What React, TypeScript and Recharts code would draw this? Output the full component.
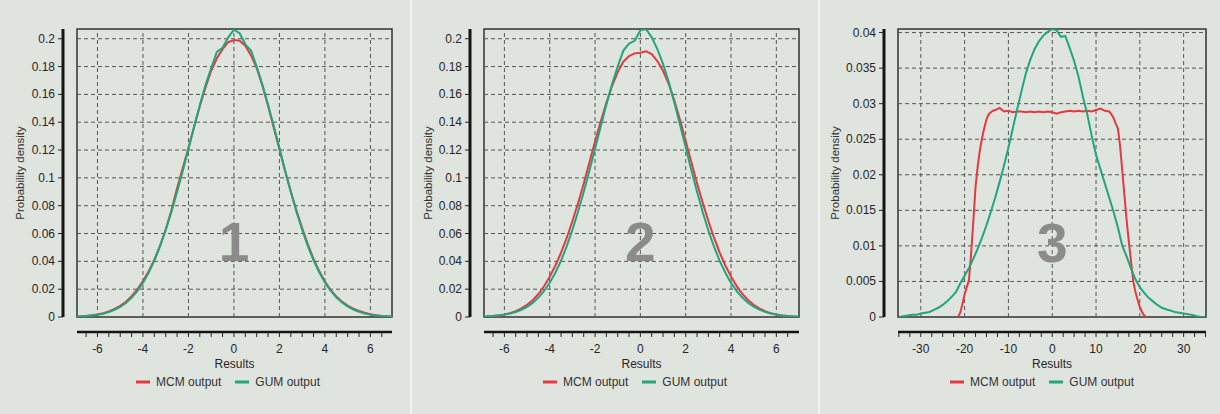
import React from 'react';
import { LineChart, Line, XAxis, YAxis, ReferenceLine, ReferenceArea, ReferenceDot, Legend } from 'recharts';

// ---------- data ----------
const P12_X = [-7, -6.75, -6.5, -6.25, -6, -5.75, -5.5, -5.25, -5, -4.75, -4.5, -4.25, -4, -3.75, -3.5, -3.25, -3, -2.75, -2.5, -2.25, -2, -1.75, -1.5, -1.25, -1, -0.75, -0.5, -0.25, 0, 0.25, 0.5, 0.75, 1, 1.25, 1.5, 1.75, 2, 2.25, 2.5, 2.75, 3, 3.25, 3.5, 3.75, 4, 4.25, 4.5, 4.75, 5, 5.25, 5.5, 5.75, 6, 6.25, 6.5, 6.75, 7];

const GUM1 = [0.0003, 0.0005, 0.0008, 0.0011, 0.0016, 0.0024, 0.0035, 0.0052, 0.0072, 0.0100, 0.0138, 0.0186, 0.0245, 0.0318, 0.0405, 0.0508, 0.0625, 0.0755, 0.0898, 0.1050, 0.1208, 0.1368, 0.1522, 0.1668, 0.1790, 0.1905, 0.1935, 0.2010,
  0.2065,
  0.2040, 0.1960, 0.1915, 0.1800, 0.1670, 0.1525, 0.1372, 0.1215, 0.1052, 0.0900, 0.0757, 0.0627, 0.0510, 0.0408, 0.0322, 0.0248, 0.0190, 0.0142, 0.0104, 0.0076, 0.0054, 0.0037, 0.0025, 0.0017, 0.0011, 0.0007, 0.0005, 0.0003];

const MCM1 = [0.0002, 0.0004, 0.0007, 0.0012, 0.0018, 0.0027, 0.0040, 0.0058, 0.0080, 0.0110, 0.0150, 0.0198, 0.0258, 0.0328, 0.0412, 0.0512, 0.0628, 0.0765, 0.0925, 0.1070, 0.1215, 0.1370, 0.1515, 0.1650, 0.1770, 0.1860, 0.1925, 0.1975,
  0.1990,
  0.1985, 0.1950, 0.1880, 0.1790, 0.1665, 0.1518, 0.1360, 0.1205, 0.1050, 0.0902, 0.0765, 0.0640, 0.0522, 0.0418, 0.0330, 0.0255, 0.0195, 0.0148, 0.0110, 0.0082, 0.0060, 0.0043, 0.0030, 0.0020, 0.0013, 0.0008, 0.0004, 0.0002];

const GUM2 = [0.0003, 0.0005, 0.0008, 0.0012, 0.0017, 0.0025, 0.0036, 0.0052, 0.0073, 0.0101, 0.0139, 0.0187, 0.0246, 0.0318, 0.0406, 0.0508, 0.0626, 0.0756, 0.0899, 0.1052, 0.1210, 0.1370, 0.1525, 0.1672, 0.1800, 0.1915, 0.1965, 0.1985,
  0.2060,
  0.2070, 0.2010, 0.1925, 0.1820, 0.1690, 0.1540, 0.1380, 0.1220, 0.1055, 0.0900, 0.0755, 0.0622, 0.0505, 0.0403, 0.0318, 0.0245, 0.0186, 0.0139, 0.0102, 0.0074, 0.0053, 0.0037, 0.0025, 0.0017, 0.0011, 0.0007, 0.0004, 0.0003];

const MCM2 = [0.0002, 0.0004, 0.0007, 0.0011, 0.0018, 0.0028, 0.0042, 0.0062, 0.0088, 0.0121, 0.0165, 0.0221, 0.0290, 0.0370, 0.0462, 0.0568, 0.0688, 0.0818, 0.0958, 0.1110, 0.1262, 0.1405, 0.1540, 0.1660, 0.1760, 0.1835, 0.1875, 0.1895,
  0.1900,
  0.1910, 0.1890, 0.1840, 0.1770, 0.1675, 0.1555, 0.1415, 0.1265, 0.1112, 0.0962, 0.0822, 0.0690, 0.0570, 0.0463, 0.0370, 0.0291, 0.0222, 0.0166, 0.0122, 0.0088, 0.0062, 0.0042, 0.0028, 0.0018, 0.0011, 0.0007, 0.0004, 0.0002];

const GUM3_X = [-35, -34, -33, -32, -31, -30, -29, -28, -27, -26, -25, -24, -23, -22, -21, -20, -19, -18, -17, -16, -15, -14, -13, -12, -11, -10, -9, -8, -7, -6, -5, -4, -3, -2, -1, 0, 1, 2, 3, 4, 5, 6, 7, 8, 9, 10, 11, 12, 13, 14, 15, 16, 17, 18, 19, 20, 21, 22, 23, 24, 25, 26, 27, 28, 29, 30, 31, 32, 33, 34, 35];
const GUM3 = [0, 0.0001, 0.0002, 0.0003, 0.0003, 0.0005, 0.0006, 0.0007, 0.0010, 0.0013, 0.0017, 0.0022, 0.0028, 0.0035, 0.0047, 0.0058, 0.0069, 0.0082, 0.0096, 0.0112, 0.0129, 0.0148, 0.0168, 0.0190, 0.0213, 0.0238, 0.0265, 0.0292, 0.0318, 0.0343, 0.0362, 0.0377, 0.0388, 0.0396, 0.0401,
  0.0405,
  0.0403, 0.0394, 0.0395, 0.0378, 0.0360, 0.0338, 0.0310, 0.0285, 0.0255, 0.0228, 0.0208, 0.0188, 0.0168, 0.0148, 0.0126, 0.0100, 0.0085, 0.0068, 0.0053, 0.0042, 0.0034, 0.0027, 0.0022, 0.0017, 0.0013, 0.0011, 0.0009, 0.0007, 0.0006, 0.0005, 0.0004, 0.0003, 0.0001, 0, 0];

const MCM3_X = [-21.5, -21, -20.5, -20, -19.5, -19, -18.5, -18, -17.5, -17, -16.5, -16, -15.5, -15, -14.5, -14, -13.5, -13, -12, -11, -10, -9, -8, -7, -6, -5, -4, -3, -2, -1, 0, 1, 2, 3, 4, 5, 6, 7, 8, 9, 10, 11, 12, 13, 13.5, 14, 14.5, 15, 15.5, 16, 16.5, 17, 17.5, 18, 18.5, 19, 19.5, 20, 20.5, 21, 21.5];
const MCM3 = [0, 0.0006, 0.0018, 0.0032, 0.0042, 0.0052, 0.0090, 0.0135, 0.0183, 0.0212, 0.0235, 0.0252, 0.0266, 0.0278, 0.0285, 0.0288, 0.0290, 0.0291, 0.0294, 0.0289, 0.0290, 0.0288, 0.0289, 0.0289, 0.0288, 0.0289, 0.0288, 0.0289, 0.0288, 0.0289, 0.0288, 0.0286, 0.0288, 0.0289, 0.0290, 0.0289, 0.0290, 0.0289, 0.0290, 0.0289, 0.0291, 0.0293, 0.0290, 0.0289, 0.0285, 0.0280, 0.0272, 0.0265, 0.0240, 0.0205, 0.0170, 0.0135, 0.0105, 0.0078, 0.0050, 0.0035, 0.0024, 0.0014, 0.0007, 0.0002, 0];

const X12_TICKS = [-6.5, -6, -5.5, -5, -4.5, -4, -3.5, -3, -2.5, -2, -1.5, -1, -0.5, 0, 0.5, 1, 1.5, 2, 2.5, 3, 3.5, 4, 4.5, 5, 5.5, 6, 6.5];
const X12_MAJOR = [-6, -4, -2, 0, 2, 4, 6];
const Y12_TICKS = [0, 0.02, 0.04, 0.06, 0.08, 0.1, 0.12, 0.14, 0.16, 0.18, 0.2];
const X3_TICKS = [-35, -32.5, -30, -27.5, -25, -22.5, -20, -17.5, -15, -12.5, -10, -7.5, -5, -2.5, 0, 2.5, 5, 7.5, 10, 12.5, 15, 17.5, 20, 22.5, 25, 27.5, 30, 32.5, 35];
const X3_MAJOR = [-30, -20, -10, 0, 10, 20, 30];
const Y3_TICKS = [0, 0.005, 0.01, 0.015, 0.02, 0.025, 0.03, 0.035, 0.04];

const MCM_NAME = 'MCM output';
const GUM_NAME = 'GUM output';
const LEGEND_ORDER = [MCM_NAME, GUM_NAME];
const X_LABEL = 'Results';
const Y_LABEL = 'Probability density';

// ---------- style ----------
const FONT = '"Liberation Sans", Arial, Helvetica, sans-serif';
const RED = '#e23a40';
const GREEN = '#1fa67d';
const GRID = '#555';
const TEXT = '#262626';
const BG = '#e0e4de';

const toPoints = (xs: number[], ys: number[]) => xs.map((x, i) => ({ x, y: ys[i] }));

const makeXTick = (majors: number[]) => (props: any) => {
  const { x, y, payload } = props;
  const v = payload.value;
  const major = majors.includes(v);
  return (
    <g>
      <line x1={x} x2={x} y1={y + 15} y2={y + 20} stroke="#222" strokeWidth={1} />
      {major && (
        <text x={x} y={y + 32} textAnchor="middle" dominantBaseline="central" fontSize={12} fill={TEXT} fontFamily={FONT}>
          {String(v)}
        </text>
      )}
    </g>
  );
};

const YTick = (props: any) => {
  const { x, y, payload } = props;
  return (
    <g>
      <line x1={x - 19} x2={x - 14} y1={y} y2={y} stroke="#222" strokeWidth={1} />
      <text x={x - 22} y={y} textAnchor="end" dominantBaseline="central" fontSize={12} fill={TEXT} fontFamily={FONT}>
        {String(payload.value)}
      </text>
    </g>
  );
};

const LegendContent = (props: any) => {
  const { payload = [] } = props;
  const items = [...payload].sort((a: any, b: any) => LEGEND_ORDER.indexOf(a.value) - LEGEND_ORDER.indexOf(b.value));
  return (
    <div style={{ display: 'flex', justifyContent: 'center', alignItems: 'center', gap: 14, fontFamily: FONT, fontSize: 12, color: '#333', lineHeight: '14px' }}>
      {items.map((e: any) => (
        <span key={e.value} style={{ display: 'flex', alignItems: 'center' }}>
          <svg width={14} height={4} style={{ marginRight: 6 }}>
            <line x1={0} y1={2} x2={14} y2={2} stroke={e.color} strokeWidth={3} />
          </svg>
          {e.value}
        </span>
      ))}
    </div>
  );
};

type Series = { name: string; color: string; xs: number[]; ys: number[] };

type PanelProps = {
  left: number;
  width: number;
  plotLeft: number;
  plotRight: number;
  xDomain: [number, number];
  yDomain: [number, number];
  xTicks: number[];
  xMajors: number[];
  yTicks: number[];
  series: Series[];
  digit: string;
  digitAt: [number, number];
  yLabelX: number;
  legendCenter: number;
};

function Panel(p: PanelProps) {
  const H = 414;
  return (
    <div style={{ position: 'absolute', left: p.left, top: 0 }}>
      <LineChart width={p.width} height={H} margin={{ top: 29, right: p.width - p.plotRight, bottom: 0, left: 0 }}>
        <XAxis
          type="number"
          dataKey="x"
          domain={p.xDomain}
          allowDataOverflow
          ticks={p.xTicks}
          interval={0}
          height={97}
          tickSize={0}
          tickMargin={0}
          tickLine={false}
          axisLine={{ stroke: '#141414', strokeWidth: 2.5, transform: 'translate(0,15)' }}
          tick={makeXTick(p.xMajors)}
          label={{ value: X_LABEL, position: 'insideTop', offset: 42, fontSize: 12, fill: TEXT, fontFamily: FONT }}
        />
        <YAxis
          type="number"
          dataKey="y"
          domain={p.yDomain}
          allowDataOverflow
          ticks={p.yTicks}
          interval={0}
          width={p.plotLeft}
          tickSize={0}
          tickMargin={0}
          tickLine={false}
          axisLine={{ stroke: '#141414', strokeWidth: 3, transform: 'translate(-14,0)' }}
          tick={YTick}
          label={{ value: Y_LABEL, angle: -90, position: 'insideLeft', offset: p.yLabelX, style: { textAnchor: 'middle' }, fontSize: 11.5, fill: '#333', fontFamily: FONT }}
        />
        {p.xMajors.map((v) => (
          <ReferenceLine key={'gx' + v} x={v} stroke={GRID} strokeWidth={1} strokeDasharray="4 3" />
        ))}
        {p.yTicks.filter((v) => v > 0).map((v) => (
          <ReferenceLine key={'gy' + v} y={v} stroke={GRID} strokeWidth={1} strokeDasharray="4 3" />
        ))}
        <ReferenceArea x1={p.xDomain[0]} x2={p.xDomain[1]} y1={p.yDomain[0]} y2={p.yDomain[1]} fill="none" fillOpacity={0} stroke="#333" strokeWidth={1.5} />
        <ReferenceDot
          x={p.digitAt[0]}
          y={p.digitAt[1]}
          r={0}
          fill="none"
          stroke="none"
          label={{ value: p.digit, position: 'center', fontSize: 55, fontWeight: 700, fill: '#8b8b89', fontFamily: FONT }}
        />
        {p.series.map((s) => (
          <Line
            key={s.name}
            data={toPoints(s.xs, s.ys)}
            dataKey="y"
            name={s.name}
            type="linear"
            stroke={s.color}
            strokeWidth={2}
            dot={false}
            activeDot={false}
            isAnimationActive={false}
          />
        ))}
        <Legend
          verticalAlign="middle"
          align="center"
          layout="horizontal"
          content={<LegendContent />}
          wrapperStyle={{ top: 375, left: p.legendCenter - 110, width: 220, height: 14 }}
        />
      </LineChart>
    </div>
  );
}

export default function App() {
  return (
    <div style={{ position: 'absolute', left: 0, top: 0, width: 1220, height: 414, background: BG, overflow: 'hidden', fontFamily: FONT }}>
      <div style={{ position: 'absolute', left: 410, top: 0, width: 2, height: 414, background: '#f2f3ef' }} />
      <div style={{ position: 'absolute', left: 818, top: 0, width: 2, height: 414, background: '#f2f3ef' }} />
      <Panel
        left={0}
        width={410}
        plotLeft={77}
        plotRight={392}
        xDomain={[-6.9, 6.95]}
        yDomain={[0, 0.207]}
        xTicks={X12_TICKS}
        xMajors={X12_MAJOR}
        yTicks={Y12_TICKS}
        series={[
          { name: MCM_NAME, color: RED, xs: P12_X, ys: MCM1 },
          { name: GUM_NAME, color: GREEN, xs: P12_X, ys: GUM1 },
        ]}
        digit="1"
        digitAt={[0, 0.054]}
        yLabelX={20}
        legendCenter={228}
      />
      <Panel
        left={410}
        width={408}
        plotLeft={74}
        plotRight={389}
        xDomain={[-6.9, 7.0]}
        yDomain={[0, 0.207]}
        xTicks={X12_TICKS}
        xMajors={X12_MAJOR}
        yTicks={Y12_TICKS}
        series={[
          { name: MCM_NAME, color: RED, xs: P12_X, ys: MCM2 },
          { name: GUM_NAME, color: GREEN, xs: P12_X, ys: GUM2 },
        ]}
        digit="2"
        digitAt={[0, 0.054]}
        yLabelX={18}
        legendCenter={225}
      />
      <Panel
        left={820}
        width={400}
        plotLeft={78}
        plotRight={386}
        xDomain={[-35.2, 35.1]}
        yDomain={[0, 0.0405]}
        xTicks={X3_TICKS}
        xMajors={X3_MAJOR}
        yTicks={Y3_TICKS}
        series={[
          { name: MCM_NAME, color: RED, xs: MCM3_X, ys: MCM3 },
          { name: GUM_NAME, color: GREEN, xs: GUM3_X, ys: GUM3 },
        ]}
        digit="3"
        digitAt={[0, 0.0105]}
        yLabelX={15}
        legendCenter={222}
      />
    </div>
  );
}
